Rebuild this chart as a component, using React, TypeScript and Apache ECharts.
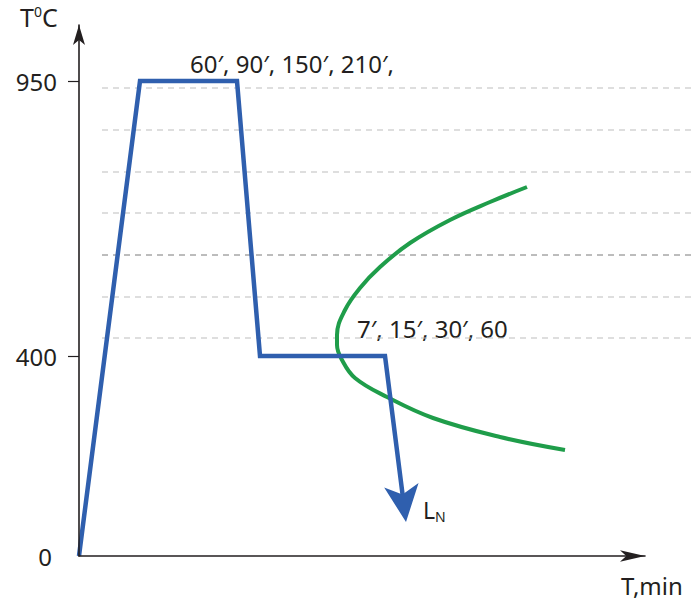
import React, { useEffect, useRef } from "react";
import * as echarts from "echarts";

// ---- data ----
const yLabelValues = [0, 400, 950];
const yTickValues = [400, 950];
const cycleX = [0, 30.5, 79, 90.5, 153];
const cycleT = [0, 950, 950, 400, 400];
// quench line: end of the shaft (inside the head) and tip of the arrow head
const quenchShaftEnd = [162.2, 110];
const quenchTip = [163.5, 68];
const cCurveX = [224, 205.5, 185.5, 165.5, 150.5, 140.5, 133, 129, 129, 131.5, 138, 154, 177, 210.5, 243];
const cCurveT = [738, 708, 672, 626, 578, 536, 492, 442, 422, 392, 356, 318, 276, 238, 212];
const guideLightT = [936, 852, 768, 686, 518, 436];
const guideDarkT = [602];
const guideFromX = 11.5;
const guideToX = 306;
const soakNote = "60′, 90′, 150′, 210′,";
const holdNote = "7′, 15′, 30′, 60";
const xName = "T,min";

const X_MAX = 283;
const Y_MAX = 1062;
const GRID_W = 566;
const GRID_H = 531;

const FONT = "'Noto Sans', 'Open Sans', sans-serif";
const INK = "#231f20";
const BLUE = "#2f5fae";
const GREEN = "#1f9d4a";

function guideData(ts: number[]) {
  const out: any[] = [];
  ts.forEach((t, i) => {
    if (i > 0) out.push("-");
    out.push([guideFromX, t]);
    out.push([guideToX, t]);
  });
  return out;
}

export default function App() {
  const ref = useRef<HTMLDivElement>(null);
  useEffect(() => {
    if (!ref.current) return;
    const chart = echarts.init(ref.current, null, { renderer: "svg" });
    const hiddenAxis = {
      show: false,
      axisLine: { show: false },
      axisTick: { show: false },
      axisLabel: { show: false },
      splitLine: { show: false },
    };
    const lastX = cycleX[cycleX.length - 1];
    const lastT = cycleT[cycleT.length - 1];
    const dxPx = ((quenchTip[0] - lastX) * GRID_W) / X_MAX;
    const dyPx = ((lastT - quenchTip[1]) * GRID_H) / Y_MAX;
    const arrowRotate = 180 + (Math.atan2(dxPx, dyPx) * 180) / Math.PI;

    chart.setOption({
      animation: false,
      backgroundColor: "#ffffff",
      grid: [
        { left: 79, top: 25, width: GRID_W, height: GRID_H, outerBoundsMode: "none", containLabel: false },
        { left: 79, top: 25, width: 612, height: GRID_H, outerBoundsMode: "none", containLabel: false },
      ],
      xAxis: [
        {
          type: "value",
          gridIndex: 0,
          min: 0,
          max: X_MAX,
          axisLine: {
            show: true,
            lineStyle: { color: INK, width: 1.6 },
            symbol: ["none", "arrow"],
            symbolSize: [8.5, 25],
          },
          axisTick: { show: false },
          axisLabel: { show: false },
          splitLine: { show: false },
          z: 5,
        },
        { type: "value", gridIndex: 1, min: 0, max: 306, ...hiddenAxis },
      ],
      yAxis: [
        {
          type: "value",
          gridIndex: 0,
          min: 0,
          max: Y_MAX,
          axisLine: {
            show: true,
            lineStyle: { color: INK, width: 1.6 },
            symbol: ["none", "arrow"],
            symbolSize: [9, 20],
          },
          axisTick: { show: true, customValues: yTickValues, length: 11, lineStyle: { color: INK, width: 1.2 } },
          axisLabel: {
            show: true,
            customValues: yLabelValues,
            margin: 22,
            color: INK,
            fontSize: 24,
            fontFamily: FONT,
            formatter: (v: number) => (v === 0 ? "{z|0}" : String(v)),
            rich: { z: { color: INK, fontSize: 24, fontFamily: FONT, padding: [0, 5, 0, 0] } },
          },
          splitLine: { show: false },
          z: 5,
        },
        { type: "value", gridIndex: 1, min: 0, max: Y_MAX, ...hiddenAxis },
      ],
      series: [
        {
          type: "line",
          name: "guides",
          xAxisIndex: 1,
          yAxisIndex: 1,
          data: guideData(guideLightT),
          showSymbol: false,
          symbol: "none",
          silent: true,
          connectNulls: false,
          lineStyle: { color: "#bdbdbd", width: 1, type: [6, 5] },
          z: 1,
        },
        {
          type: "line",
          name: "guidesDark",
          xAxisIndex: 1,
          yAxisIndex: 1,
          data: guideData(guideDarkT),
          showSymbol: false,
          symbol: "none",
          silent: true,
          lineStyle: { color: "#7a7a7a", width: 1, type: [6, 5] },
          z: 1,
        },
        {
          type: "line",
          name: "C-curve",
          data: cCurveX.map((x, i) => [x, cCurveT[i]]),
          smooth: 0.4,
          showSymbol: false,
          symbol: "none",
          clip: false,
          lineStyle: { color: GREEN, width: 4 },
          z: 3,
        },
        {
          type: "line",
          name: "cycle",
          data: [...cycleX.map((x, i) => [x, cycleT[i]]), quenchShaftEnd],
          showSymbol: false,
          symbol: "none",
          clip: false,
          lineStyle: { color: BLUE, width: 4.5, join: "miter" },
          z: 4,
        },
        {
          type: "scatter",
          name: "quench arrow",
          data: [quenchTip],
          symbol: "arrow",
          symbolSize: [26, 37],
          symbolRotate: arrowRotate,
          itemStyle: { color: BLUE, opacity: 1 },
          clip: false,
          silent: true,
          z: 5,
        },
      ],
      graphic: [
        {
          type: "text",
          x: 20,
          y: 17,
          style: {
            text: "{a|T}{b|0}{a|C}",
            verticalAlign: "middle",
            rich: {
              a: { fontSize: 25, fontFamily: FONT, fill: INK, color: INK, lineHeight: 26 },
              b: { fontSize: 14, fontFamily: FONT, fill: INK, color: INK, verticalAlign: "top", lineHeight: 14 },
            },
          },
        },
        {
          type: "text",
          x: 190,
          y: 63,
          style: { text: soakNote, font: `24px ${FONT}`, fill: INK, verticalAlign: "middle" },
        },
        {
          type: "text",
          x: 357,
          y: 328,
          style: { text: holdNote, font: `24px ${FONT}`, fill: INK, verticalAlign: "middle" },
        },
        {
          type: "text",
          x: 423,
          y: 510,
          style: {
            text: "{a|L}{b|N}",
            verticalAlign: "middle",
            rich: {
              a: { fontSize: 23, fontFamily: FONT, fill: INK, color: INK, lineHeight: 26 },
              b: { fontSize: 14, fontFamily: FONT, fill: INK, color: INK, verticalAlign: "bottom", lineHeight: 14 },
            },
          },
        },
        {
          type: "text",
          x: 621,
          y: 585,
          style: { text: xName, font: `24px ${FONT}`, fill: INK, verticalAlign: "middle" },
        },
      ],
    });
    return () => chart.dispose();
  }, []);
  return (
    <div
      ref={ref}
      style={{ position: "fixed", left: 0, top: 0, width: 691, height: 602, background: "#fff" }}
    />
  );
}
